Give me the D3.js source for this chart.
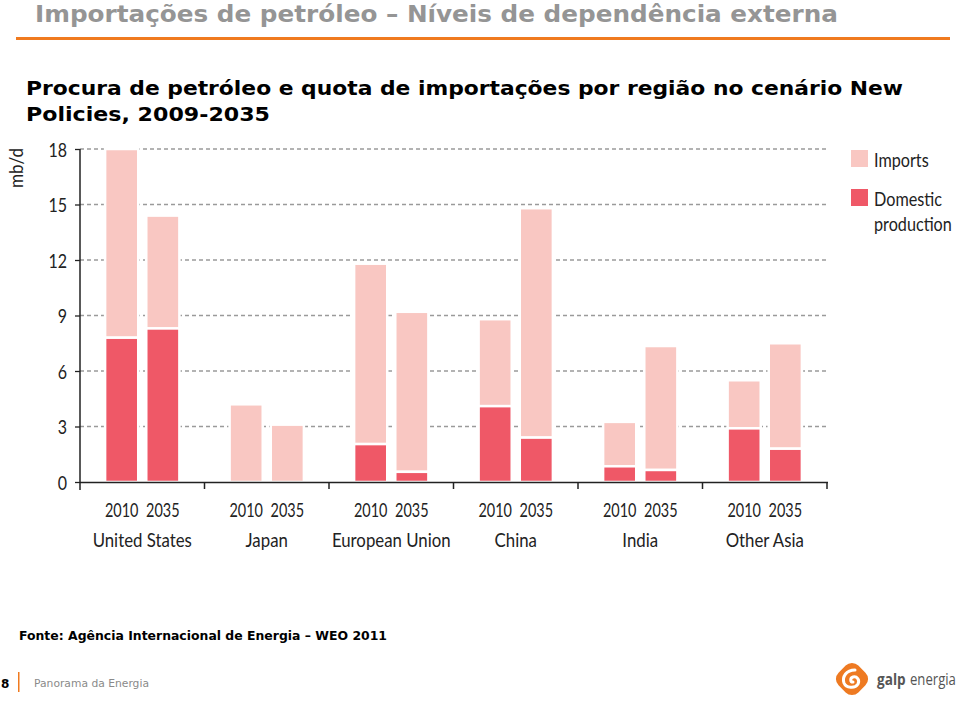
<!DOCTYPE html>
<html><head><meta charset="utf-8">
<script src="https://cdn.jsdelivr.net/npm/d3@7"></script>
<style>body{margin:0;background:#fff;}svg{display:block;}</style>
</head><body>
<svg id="c" width="960" height="702"></svg>
<script>
const regions = ["United States","Japan","European Union","China","India","Other Asia"];
const years = ["2010","2035"];
const domestic = [[7.8,8.3],[0,0],[2.05,0.55],[4.1,2.4],[0.85,0.65],[2.9,1.8]];
const total    = [[18.0,14.4],[4.2,3.1],[11.8,9.2],[8.8,14.8],[3.25,7.35],[5.5,7.5]];
const yTicks = [0,3,6,9,12,15,18];
const seriesNames = ["Imports","Domestic production"];
const colImports = "#F9C7C2", colDomestic = "#EF5867";

const svg = d3.select("#c");
const narrow = "Lato,'Open Sans',sans-serif";
function condense(sel, f){
  sel.each(function(){
    const w = this.getComputedTextLength();
    d3.select(this).attr("textLength", w*f).attr("lengthAdjust","spacingAndGlyphs");
  });
  return sel;
}
function squeezed(parent, x, yy, f, txt, attrs){
  const t = parent.append("text").attr("transform",`translate(${x},${yy}) scale(${f},1)`).text(txt);
  Object.entries(attrs).forEach(([k,v])=>t.attr(k,v));
  return t;
}

// header
svg.append("text").attr("x",35).attr("y",22).attr("fill","#959595")
  .attr("font-family","'DejaVu Sans',Verdana,sans-serif").attr("font-weight","bold").attr("font-size",23)
  .attr("textLength",803).attr("lengthAdjust","spacingAndGlyphs")
  .text("Importações de petróleo – Níveis de dependência externa");
svg.append("rect").attr("x",16).attr("y",37).attr("width",934).attr("height",3).attr("fill","#F07A1F");
svg.append("text").attr("x",26).attr("y",95).attr("fill","#000")
  .attr("font-family","'DejaVu Sans',Verdana,sans-serif").attr("font-weight","bold").attr("font-size",20)
  .attr("textLength",877).attr("lengthAdjust","spacingAndGlyphs")
  .text("Procura de petróleo e quota de importações por região no cenário New");
svg.append("text").attr("x",26).attr("y",121).attr("fill","#000")
  .attr("font-family","'DejaVu Sans',Verdana,sans-serif").attr("font-weight","bold").attr("font-size",20)
  .attr("textLength",244).attr("lengthAdjust","spacingAndGlyphs")
  .text("Policies, 2009-2035");

// chart
const x0 = 80, x1 = 827, yBase = 482, yTop = 149;
const y = d3.scaleLinear().domain([0,18]).range([yBase,yTop]);
const xr = d3.scaleBand().domain(regions).range([x0,x1]);
const xy = d3.scaleBand().domain(years).range([0,xr.bandwidth()]).paddingInner(0.195).paddingOuter(0.61);

const g = svg.append("g");
g.selectAll("line.grid").data(yTicks.filter(d=>d>0)).join("line")
  .attr("x1",x0).attr("x2",x1+1).attr("y1",d=>y(d)).attr("y2",d=>y(d))
  .attr("stroke","#9a9a9a").attr("stroke-width",1.3).attr("stroke-dasharray","4,3");

regions.forEach((r,i)=>{
  years.forEach((yr,j)=>{
    const bx = xr(r)+xy(yr), bw = xy.bandwidth();
    const t = total[i][j], d = domestic[i][j];
    g.append("rect").attr("x",bx).attr("width",bw).attr("y",y(t)).attr("height",y(d)-y(t))
      .attr("fill",colImports).attr("stroke","#fff").attr("stroke-width",2.5);
    if(d>0) g.append("rect").attr("x",bx).attr("width",bw).attr("y",y(d)).attr("height",y(0)-y(d))
      .attr("fill",colDomestic).attr("stroke","#fff").attr("stroke-width",2.5);
    condense(g.append("text").attr("x",bx+bw/2).attr("y",517).attr("text-anchor","middle")
      .attr("font-family",narrow).attr("font-size",19).attr("fill","#222").text(yr), 0.76);
  });
  condense(g.append("text").attr("x",xr(r)+xr.bandwidth()/2).attr("y",547).attr("text-anchor","middle")
    .attr("font-family",narrow).attr("font-size",20).attr("fill","#222").text(r), 0.84);
});

g.append("line").attr("x1",x0).attr("x2",x1+1).attr("y1",yBase+0.5).attr("y2",yBase+0.5).attr("stroke","#222").attr("stroke-width",1.5);
const bounds = regions.map(r=>xr(r)).concat([x1]);
g.selectAll("line.xt").data(bounds.slice(1)).join("line")
  .attr("x1",d=>d).attr("x2",d=>d).attr("y1",yBase).attr("y2",yBase+7).attr("stroke","#222").attr("stroke-width",1.5);

const yAxis = d3.axisLeft(y).tickValues(yTicks).tickSize(5).tickPadding(8);
const ya = svg.append("g").attr("transform",`translate(${x0},0)`).call(yAxis);
ya.select(".domain").remove();
ya.selectAll("line").attr("stroke","#222").attr("stroke-width",1.3);
ya.selectAll("text").attr("font-family",narrow).attr("font-size",20).attr("fill","#222").attr("dy","0.35em");
condense(ya.selectAll("text"), 0.8);
svg.append("line").attr("x1",x0).attr("x2",x0).attr("y1",yTop).attr("y2",yBase+8).attr("stroke","#222").attr("stroke-width",1.5);
condense(svg.append("text").attr("transform","translate(23,168) rotate(-90)").attr("text-anchor","middle")
  .attr("font-family",narrow).attr("font-size",19).attr("fill","#222").text("mb/d"), 0.9);

// legend
const lg = svg.append("g");
[colImports,colDomestic].forEach((c,i)=>{
  lg.append("rect").attr("x",851).attr("y",i===0?150:189).attr("width",17).attr("height",17).attr("fill",c);
});
[["Imports",167],["Domestic",206],["production",231]].forEach(([t,yy])=>{
  squeezed(lg, 874, yy, 0.81, t, {"font-family":narrow,"font-size":20,"fill":"#222"});
});

// footer
svg.append("text").attr("x",19).attr("y",640).attr("font-family","'DejaVu Sans',Verdana,sans-serif")
  .attr("font-weight","bold").attr("font-size",12.5).attr("fill","#000")
  .attr("textLength",368).attr("lengthAdjust","spacingAndGlyphs")
  .text("Fonte: Agência Internacional de Energia – WEO 2011");
svg.append("text").attr("x",1).attr("y",688).attr("font-family","'DejaVu Sans',Verdana,sans-serif")
  .attr("font-weight","bold").attr("font-size",12).attr("fill","#000").text("8");
svg.append("rect").attr("x",18).attr("y",672).attr("width",1.5).attr("height",20).attr("fill","#F07A1F");
svg.append("text").attr("x",34).attr("y",687).attr("font-family","'DejaVu Sans',Verdana,sans-serif")
  .attr("font-size",10.5).attr("fill","#8a8a8a").attr("textLength",115).attr("lengthAdjust","spacingAndGlyphs")
  .text("Panorama da Energia");

// logo
const lo = svg.append("g").attr("transform","translate(852,679)");
lo.append("rect").attr("x",-14).attr("y",-14).attr("width",28).attr("height",28).attr("rx",9)
  .attr("transform","rotate(45)").attr("fill","#EE7A22");
lo.append("path").attr("d","M3,-9 C-6,-9 -10,-2 -8,4 C-6,9 3,10 6,5 C8,1 5,-3 1,-2 C-2,-1 -2,3 1,3")
  .attr("fill","none").attr("stroke","#fff").attr("stroke-width",3).attr("stroke-linecap","round");
squeezed(svg, 877, 685, 0.85, "galp", {"font-family":"'Open Sans',sans-serif","font-size":16,"font-weight":"bold","fill":"#555"});
squeezed(svg, 910, 685, 0.82, "energia", {"font-family":"'Open Sans',sans-serif","font-size":16,"fill":"#555"});
</script>
</body></html>
